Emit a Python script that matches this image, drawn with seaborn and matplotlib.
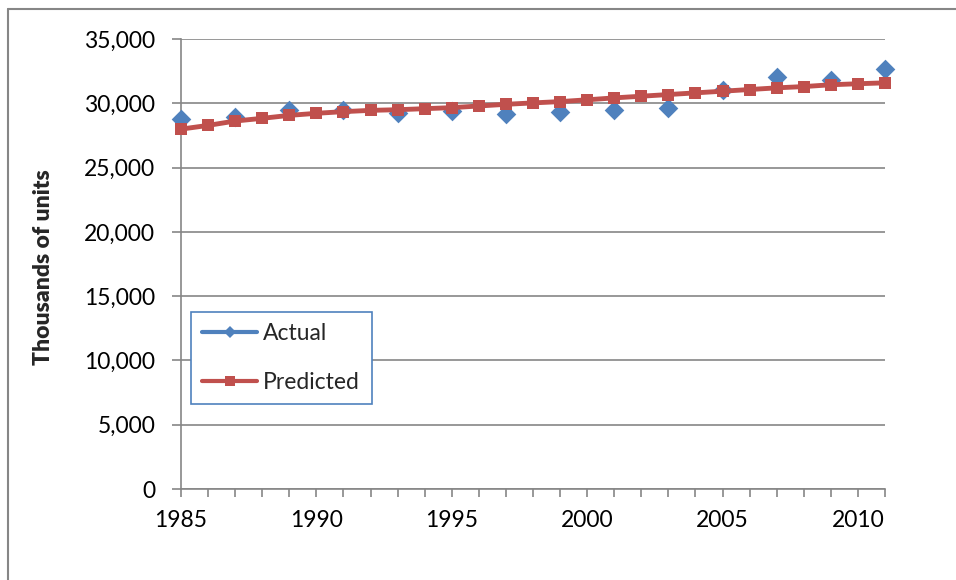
# Actual vs predicted units, 1985-2011
import numpy as np
import pandas as pd
import seaborn as sns
from matplotlib import pyplot as plt
from matplotlib.lines import Line2D
from matplotlib.ticker import MultipleLocator, FuncFormatter

sns.set_style("white")
plt.rcParams['font.family'] = ['Lato', 'DejaVu Sans']

# Data
actual_years = [1985, 1987, 1989, 1991, 1993, 1995, 1997, 1999,
                2001, 2003, 2005, 2007, 2009, 2011]
actual_units = [28780, 28950, 29480, 29480, 29220, 29400, 29150, 29320,
                29480, 29650, 31000, 32030, 31850, 32690]

predicted_years = list(range(1985, 2012))
predicted_units = [27990, 28280, 28620, 28830, 29060, 29220, 29350, 29450,
                   29500, 29580, 29660, 29790, 29920, 30030, 30130, 30270,
                   30420, 30550, 30680, 30810, 30940, 31070, 31200, 31300,
                   31440, 31520, 31590]

BLUE = '#4F81BD'
RED = '#C0504D'
GREY = '#868686'
FS = 16.5

actual_df = pd.DataFrame({'year': actual_years, 'units': actual_units})
pred_df = pd.DataFrame({'year': predicted_years, 'units': predicted_units})

fig = plt.figure(figsize=(9.56, 5.8), dpi=100)
ax = fig.add_axes([181 / 956, 1 - 489 / 580, 704 / 956, 450 / 580])

# Actual as diamonds only, predicted as thick line with squares on top
sns.scatterplot(data=actual_df, x='year', y='units', marker='D', s=100,
                color=BLUE, linewidth=0, ax=ax, clip_on=False, zorder=3)
sns.lineplot(data=pred_df, x='year', y='units', marker='s', markersize=8.6,
             markeredgewidth=0, lw=3.5, color=RED, ax=ax, clip_on=False,
             zorder=4)

# Axes format
ax.set_xlim(1985, 2011)
ax.set_ylim(0, 35000)
ax.xaxis.set_major_locator(MultipleLocator(5))
ax.xaxis.set_minor_locator(MultipleLocator(1))
ax.yaxis.set_major_locator(MultipleLocator(5000))
ax.yaxis.set_major_formatter(FuncFormatter(lambda v, p: f'{int(v):,}'))
ax.set_xlabel('')
ax.set_ylabel('')

for side in ['top', 'right']:
    ax.spines[side].set_visible(False)
for side in ['left', 'bottom']:
    ax.spines[side].set_color(GREY)
    ax.spines[side].set_linewidth(1.2)

ax.grid(axis='y', color=GREY, lw=1.2)
ax.grid(axis='x', visible=False)
ax.tick_params(axis='y', which='major', left=True, length=6.5, width=1.2,
               color=GREY, pad=12, labelsize=FS, labelcolor='black')
ax.tick_params(axis='x', which='both', bottom=True, length=6, width=1.2,
               color=GREY, pad=9, labelsize=FS, labelcolor='black')

fig.text(44 / 956, 1 - 267 / 580, 'Thousands of units', rotation=90,
         ha='center', va='center', fontsize=FS, fontweight='heavy')

# Legend
handles = [
    Line2D([], [], color=BLUE, lw=3, marker='D', markersize=6,
           markeredgewidth=0),
    Line2D([], [], color=RED, lw=3, marker='s', markersize=7,
           markeredgewidth=0),
]
leg = ax.legend(handles, ['Actual', 'Predicted'], loc='upper left',
                bbox_to_anchor=(10 / 704, 177 / 450), borderaxespad=0,
                fontsize=FS, frameon=True, fancybox=False, framealpha=1,
                edgecolor=BLUE, handlelength=2.4, handletextpad=0.25,
                labelspacing=1.2, borderpad=0.5)
leg.get_frame().set_linewidth(1.2)

# Outer chart border (top and left edges visible)
fig.add_artist(Line2D([8 / 956, 8 / 956], [0, 1 - 9 / 580],
                      color=GREY, lw=1.5, transform=fig.transFigure))
fig.add_artist(Line2D([8 / 956, 1], [1 - 9 / 580, 1 - 9 / 580],
                      color=GREY, lw=1.5, transform=fig.transFigure))

fig.savefig('out.png', dpi=100)
